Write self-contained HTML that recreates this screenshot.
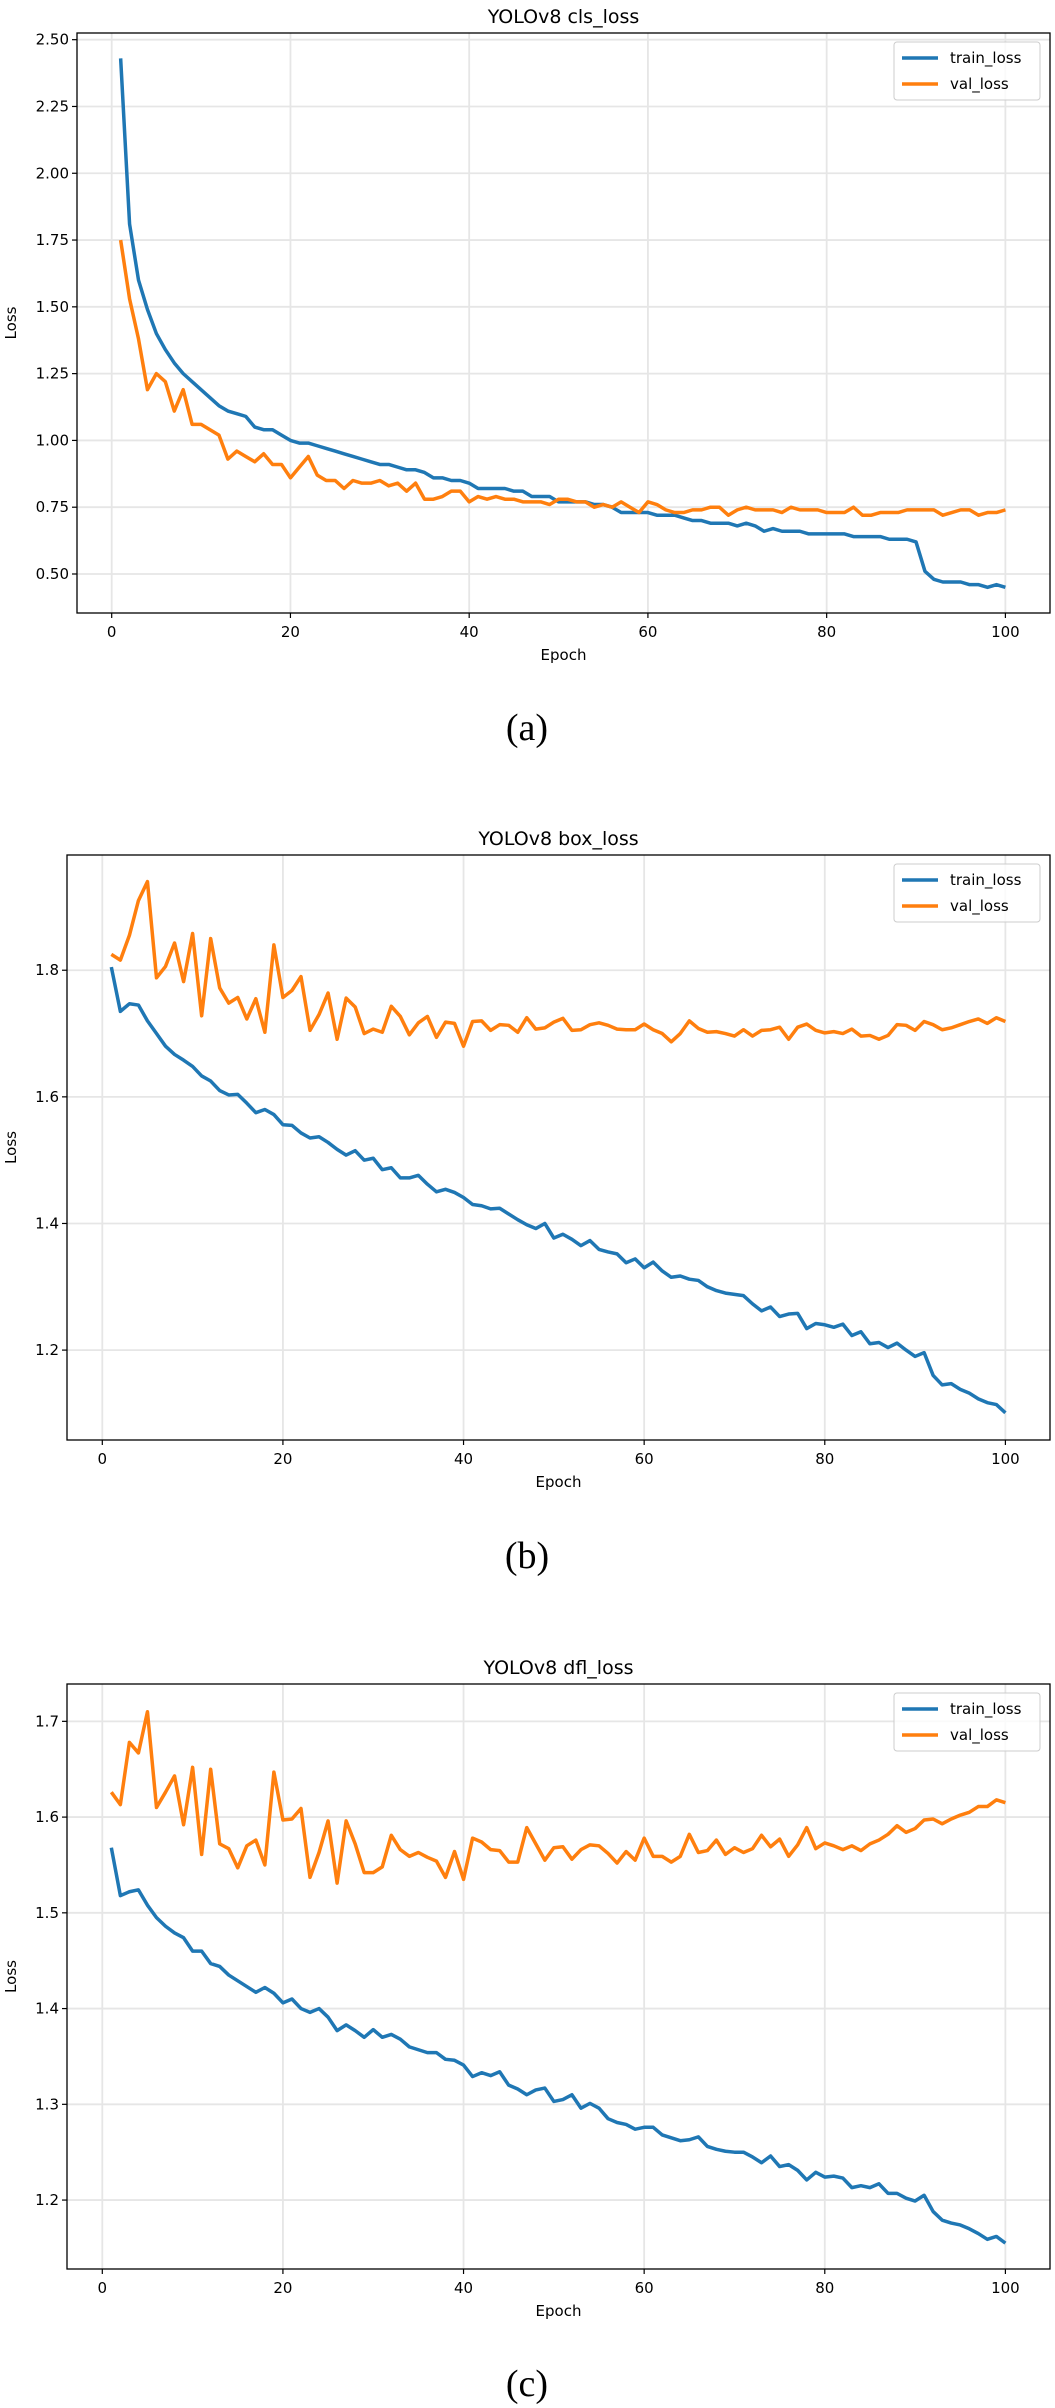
<!DOCTYPE html>
<html><head><meta charset="utf-8"><style>
html,body{margin:0;padding:0;background:#fff;}
svg{display:block;font-family:"DejaVu Sans","Liberation Sans",sans-serif;}
.cap{font-family:"Liberation Serif",serif;font-size:38px;}
</style></head><body>
<svg id="fig" width="1055" height="2408" viewBox="0 0 1055 2408"></svg>
<script>
const epochs = Array.from({length:100},(_,i)=>i+1);
const xTicks = [0,20,40,60,80,100];
const clsTrain = [2.43,1.81,1.60,1.49,1.40,1.34,1.29,1.25,1.22,1.19,1.16,1.13,1.11,1.10,1.09,1.05,1.04,1.04,1.02,1.00,0.99,0.99,0.98,0.97,0.96,0.95,0.94,0.93,0.92,0.91,0.91,0.90,0.89,0.89,0.88,0.86,0.86,0.85,0.85,0.84,0.82,0.82,0.82,0.82,0.81,0.81,0.79,0.79,0.79,0.77,0.77,0.77,0.77,0.76,0.76,0.75,0.73,0.73,0.73,0.73,0.72,0.72,0.72,0.71,0.70,0.70,0.69,0.69,0.69,0.68,0.69,0.68,0.66,0.67,0.66,0.66,0.66,0.65,0.65,0.65,0.65,0.65,0.64,0.64,0.64,0.64,0.63,0.63,0.63,0.62,0.51,0.48,0.47,0.47,0.47,0.46,0.46,0.45,0.46,0.45];
const clsVal = [1.75,1.53,1.38,1.19,1.25,1.22,1.11,1.19,1.06,1.06,1.04,1.02,0.93,0.96,0.94,0.92,0.95,0.91,0.91,0.86,0.90,0.94,0.87,0.85,0.85,0.82,0.85,0.84,0.84,0.85,0.83,0.84,0.81,0.84,0.78,0.78,0.79,0.81,0.81,0.77,0.79,0.78,0.79,0.78,0.78,0.77,0.77,0.77,0.76,0.78,0.78,0.77,0.77,0.75,0.76,0.75,0.77,0.75,0.73,0.77,0.76,0.74,0.73,0.73,0.74,0.74,0.75,0.75,0.72,0.74,0.75,0.74,0.74,0.74,0.73,0.75,0.74,0.74,0.74,0.73,0.73,0.73,0.75,0.72,0.72,0.73,0.73,0.73,0.74,0.74,0.74,0.74,0.72,0.73,0.74,0.74,0.72,0.73,0.73,0.74];
const clsTicks = [0.50,0.75,1.00,1.25,1.50,1.75,2.00,2.25,2.50];
const boxTrain = [1.805,1.735,1.747,1.745,1.72,1.70,1.68,1.667,1.658,1.648,1.633,1.625,1.610,1.603,1.604,1.59,1.575,1.58,1.572,1.556,1.555,1.543,1.535,1.537,1.528,1.517,1.508,1.515,1.500,1.503,1.485,1.488,1.472,1.472,1.476,1.462,1.450,1.454,1.449,1.441,1.43,1.428,1.423,1.424,1.415,1.406,1.398,1.392,1.400,1.377,1.383,1.375,1.365,1.373,1.359,1.355,1.352,1.338,1.344,1.330,1.339,1.325,1.315,1.317,1.312,1.310,1.300,1.294,1.290,1.288,1.286,1.273,1.262,1.268,1.253,1.257,1.258,1.234,1.242,1.240,1.236,1.241,1.223,1.229,1.210,1.212,1.204,1.211,1.200,1.190,1.196,1.160,1.145,1.147,1.138,1.132,1.123,1.117,1.114,1.101];
const boxVal = [1.825,1.816,1.855,1.910,1.940,1.788,1.806,1.843,1.782,1.858,1.728,1.850,1.772,1.748,1.757,1.723,1.755,1.702,1.840,1.757,1.768,1.790,1.705,1.730,1.764,1.691,1.756,1.742,1.700,1.707,1.702,1.743,1.727,1.698,1.717,1.727,1.694,1.718,1.716,1.680,1.719,1.720,1.705,1.714,1.713,1.702,1.725,1.707,1.709,1.718,1.724,1.705,1.706,1.714,1.717,1.713,1.707,1.706,1.706,1.715,1.706,1.700,1.687,1.700,1.720,1.708,1.702,1.703,1.700,1.696,1.706,1.696,1.705,1.706,1.710,1.691,1.710,1.715,1.705,1.701,1.703,1.700,1.707,1.696,1.697,1.691,1.697,1.714,1.713,1.705,1.719,1.714,1.706,1.709,1.714,1.719,1.723,1.716,1.725,1.719];
const boxTicks = [1.2,1.4,1.6,1.8];
const dflTrain = [1.568,1.518,1.522,1.524,1.508,1.495,1.486,1.479,1.474,1.460,1.460,1.447,1.444,1.435,1.429,1.423,1.417,1.422,1.416,1.406,1.410,1.400,1.396,1.400,1.391,1.377,1.383,1.377,1.370,1.378,1.370,1.373,1.368,1.360,1.357,1.354,1.354,1.347,1.346,1.341,1.329,1.333,1.330,1.334,1.320,1.316,1.310,1.315,1.317,1.303,1.305,1.310,1.296,1.301,1.296,1.285,1.281,1.279,1.274,1.276,1.276,1.268,1.265,1.262,1.263,1.266,1.256,1.253,1.251,1.250,1.250,1.245,1.239,1.246,1.235,1.237,1.231,1.221,1.229,1.224,1.225,1.223,1.213,1.215,1.213,1.217,1.207,1.207,1.202,1.199,1.205,1.188,1.179,1.176,1.174,1.170,1.165,1.159,1.162,1.155];
const dflVal = [1.626,1.613,1.678,1.667,1.710,1.610,1.626,1.643,1.592,1.652,1.561,1.650,1.572,1.567,1.547,1.570,1.576,1.550,1.647,1.597,1.598,1.609,1.537,1.563,1.596,1.531,1.596,1.572,1.542,1.542,1.548,1.581,1.566,1.559,1.563,1.558,1.554,1.537,1.564,1.535,1.578,1.574,1.566,1.565,1.553,1.553,1.589,1.572,1.555,1.568,1.569,1.556,1.566,1.571,1.570,1.562,1.552,1.564,1.555,1.578,1.559,1.559,1.553,1.559,1.582,1.563,1.565,1.576,1.561,1.568,1.563,1.567,1.581,1.569,1.577,1.559,1.571,1.589,1.567,1.573,1.570,1.566,1.570,1.565,1.572,1.576,1.582,1.591,1.584,1.588,1.597,1.598,1.593,1.598,1.602,1.605,1.611,1.611,1.618,1.615];
const dflTicks = [1.2,1.3,1.4,1.5,1.6,1.7];

const NS='http://www.w3.org/2000/svg';
const svg=document.getElementById('fig');
function mk(tag,attrs,parent,text){const e=document.createElementNS(NS,tag);for(const k in attrs)e.setAttribute(k,attrs[k]);if(text!==undefined)e.textContent=text;(parent||svg).appendChild(e);return e;}

function chart(name,title,train,val,yTicks,decimals,L,R,T,B,ymin,ymax,xl0,xl100,cap,capY){
  const g=mk('g',{});
  
  
  const xs=v=>xl0+(xl100-xl0)*v/100;
  const ys=v=>B-(v-ymin)/(ymax-ymin)*(B-T);
  xTicks.forEach(t=>{
    const x=xs(t);
    const gl=mk('line',{x1:x,x2:x,y1:T,y2:B,stroke:'#e6e6e6','stroke-width':1.8},g);
    
    
    mk('line',{x1:x,x2:x,y1:B,y2:B+5,stroke:'#000','stroke-width':1.2},g);
    const tl=mk('text',{x:x,y:B+24,'text-anchor':'middle','font-size':15},g,String(t));
    
    
  });
  yTicks.forEach(t=>{
    const y=ys(t);
    const gl=mk('line',{x1:L,x2:R,y1:y,y2:y,stroke:'#e6e6e6','stroke-width':1.8},g);
    
    
    mk('line',{x1:L-5,x2:L,y1:y,y2:y,stroke:'#000','stroke-width':1.2},g);
    const tl=mk('text',{x:L-8,y:y+5,'text-anchor':'end','font-size':15},g,t.toFixed(decimals));
    
    
  });
  const mkLine=(arr,color,nm)=>{
    const d=arr.map((v,i)=>(i?'L':'M')+xs(epochs[i]).toFixed(2)+' '+ys(v).toFixed(2)).join(' ');
    const p=mk('path',{d:d,fill:'none',stroke:color,'stroke-width':3.5,'stroke-linejoin':'round'},g);
    
    
  };
  mkLine(train,'#1f77b4','train-loss-line');
  mkLine(val,'#ff7f0e','val-loss-line');
  const fr=mk('rect',{x:L,y:T,width:R-L,height:B-T,fill:'none',stroke:'#000','stroke-width':1.3},g);
  
  
  const tt=mk('text',{x:(L+R)/2,y:T-10,'text-anchor':'middle','font-size':19},g,title);
  
  
  const xt=mk('text',{x:(L+R)/2,y:B+47,'text-anchor':'middle','font-size':15},g,'Epoch');
  
  
  const yt=mk('text',{x:0,y:0,'text-anchor':'middle','font-size':15,transform:`translate(16,${(T+B)/2}) rotate(-90)`},g,'Loss');
  
  
  const lg=mk('g',{},g);
  
  
  const lx=R-156, ly=T+9;
  mk('rect',{x:lx,y:ly,width:146,height:58,rx:3,fill:'#fff','fill-opacity':0.8,stroke:'#ccc','stroke-width':1},lg);
  [['train_loss','#1f77b4'],['val_loss','#ff7f0e']].forEach((e,i)=>{
    const yy=ly+16+i*26;
    const en=mk('g',{},lg);
    
    
    mk('line',{x1:lx+8,x2:lx+44,y1:yy,y2:yy,stroke:e[1],'stroke-width':3.5},en);
    mk('text',{x:lx+56,y:yy+5,'font-size':15},en,e[0]);
  });
  const c=mk('text',{x:527,y:capY,'text-anchor':'middle',class:'cap'},g,cap);
  
  
}
chart('cls','YOLOv8 cls_loss',clsTrain,clsVal,clsTicks,2,77,1050,33,613,0.354,2.525,111.7,1005.4,'(a)',740);
chart('box','YOLOv8 box_loss',boxTrain,boxVal,boxTicks,1,67,1050,855,1440,1.058,1.982,102.3,1005.4,'(b)',1568);
chart('dfl','YOLOv8 dfl_loss',dflTrain,dflVal,dflTicks,1,67,1050,1684,2269,1.128,1.739,102.3,1005.4,'(c)',2396);
</script>
</body></html>
